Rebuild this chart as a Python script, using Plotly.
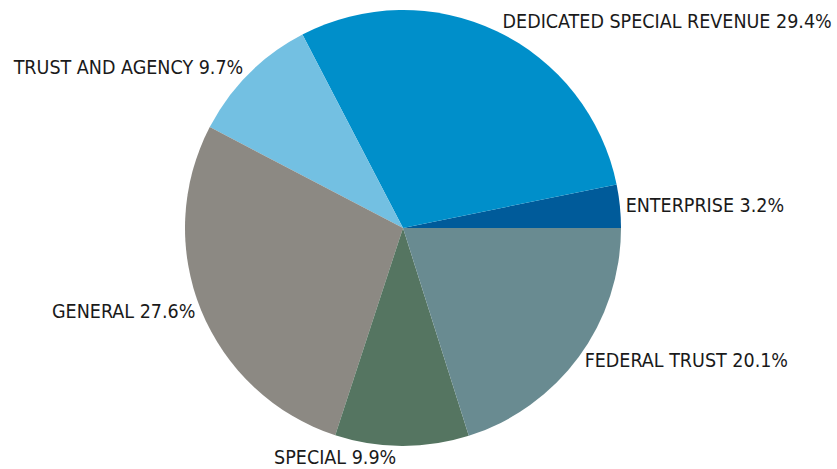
import plotly.graph_objects as go

labels = ["ENTERPRISE", "DEDICATED SPECIAL REVENUE", "TRUST AND AGENCY", "GENERAL", "SPECIAL", "FEDERAL TRUST"]
values = [3.2, 29.4, 9.7, 27.6, 9.9, 20.1]
colors = ["#005B9A", "#008FCA", "#73C0E2", "#8C8983", "#557561", "#698B91"]

W, H = 837, 469
first_share = values[0] / sum(values) * 360
fig = go.Figure(go.Pie(
    labels=labels,
    values=values,
    sort=False,
    direction="counterclockwise",
    rotation=90 - first_share,
    marker=dict(colors=colors, line=dict(width=0)),
    texttemplate="%{label} %{value:.1f}%",
    textposition="outside",
    textfont=dict(family="Liberation Sans Narrow, Arial Narrow, DejaVu Sans Condensed, sans-serif", size=19.5, color="#1a1a1a"),
    domain=dict(x=[185 / W, 621 / W], y=[1 - 446 / H, 1 - 10 / H]),
    automargin=False,
    showlegend=False,
    hoverinfo="label+value",
))
fig.update_layout(
    width=W, height=H,
    margin=dict(l=0, r=0, t=0, b=0),
    paper_bgcolor="white",
    plot_bgcolor="white",
)
fig.write_html("out.html", config={"displayModeBar": False},
               post_script="document.body.style.margin='0';document.body.style.padding='0';")
